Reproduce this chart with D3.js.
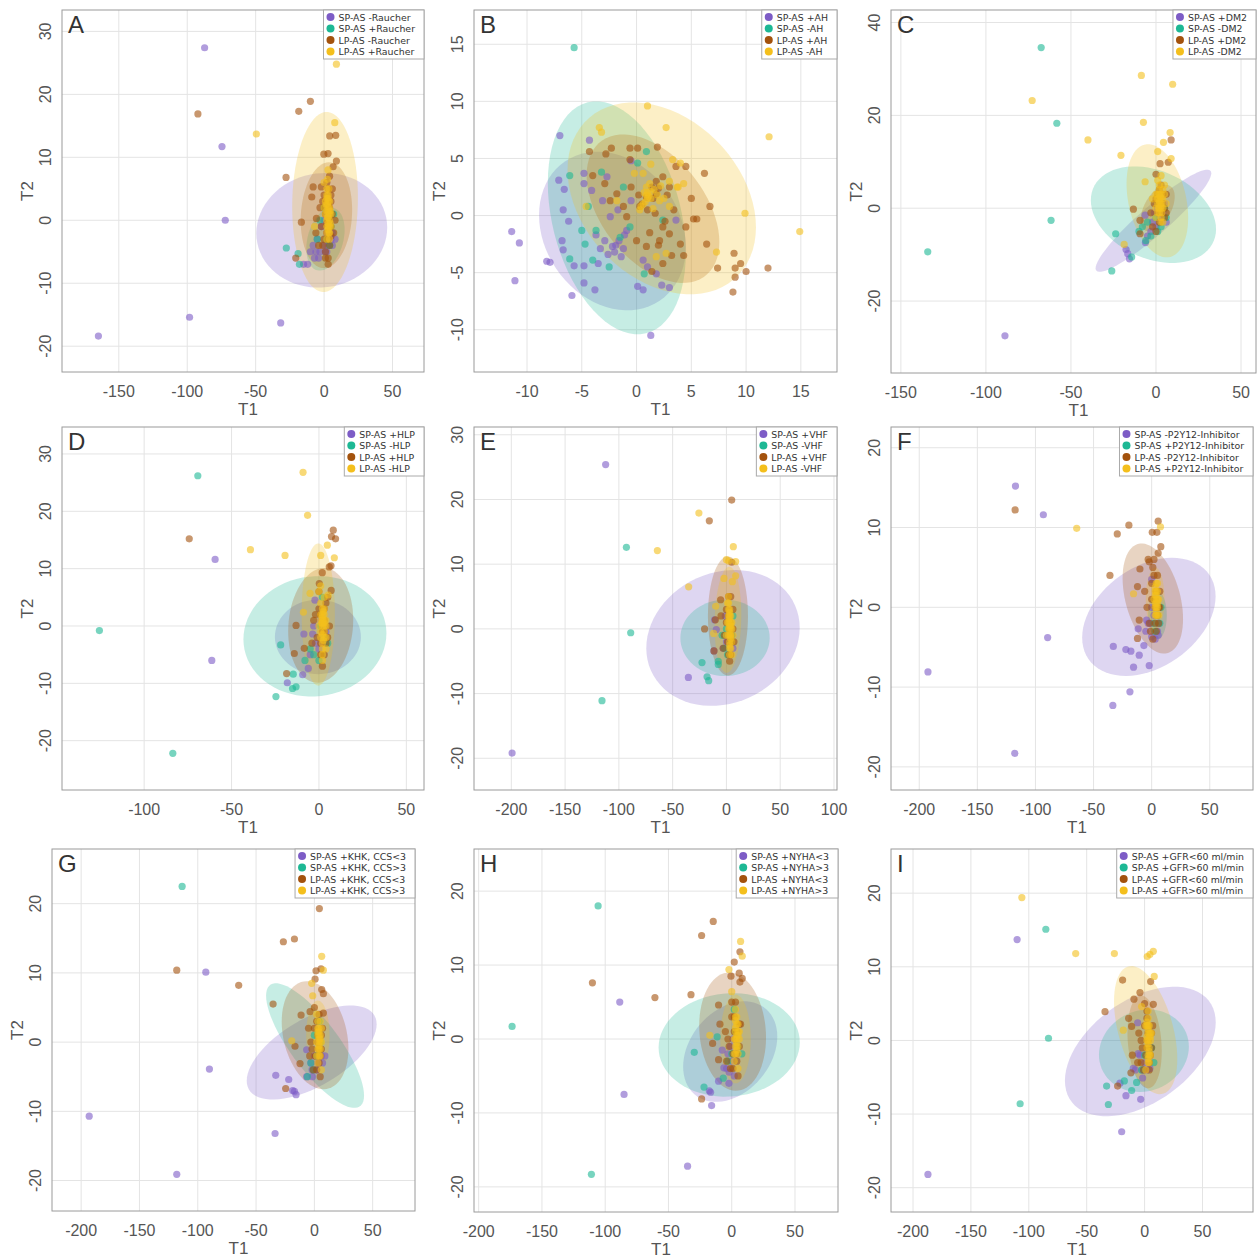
<!DOCTYPE html>
<html>
<head>
<meta charset="utf-8">
<script src="https://cdn.jsdelivr.net/npm/d3@7"></script>
<style>
  body { margin: 0; background: #fff; }
  svg { font-family: "Liberation Sans", Arial, sans-serif; }
</style>
</head>
<body>
<svg id="chart" width="1258" height="1258"></svg>
<script>
// group colours: SP-AS (1), SP-AS (2), LP-AS (1), LP-AS (2)
const colors = ["#7d5cc6", "#1db894", "#a3520d", "#f4bf1c"];

// ---- Panel A ----
const legendA = ["SP-AS -Raucher", "SP-AS +Raucher", "LP-AS -Raucher", "LP-AS +Raucher"];
const xTicksA = [-150, -100, -50, 0, 50];
const yTicksA = [-20, -10, 0, 10, 20, 30];
const xDomA = [-191.5, 73], yDomA = [-24.1, 33.4];
// ellipses: [cx, cy, sx, sy, rho]
const ellA = [[-1.7, -1.6, 47.8, 9.1, 0.05], [1, -3, 14, 5, 0.3], [1.7, 0.8, 18.8, 8.4, 0.1], [0.7, 2.9, 24, 14.3, 0.05]];
const ptsA = [
  [[-87.3,27.4],[-74.6,11.7],[-72.2,0],[-98.3,-15.4],[-31.7,-16.3],[-164.9,-18.4],[-15,-7],[-12,-7],[-6,-5],[-3,-5],[0,-4],[3,-4],[5,-3],[-8,-4],[-5,-3],[2,-2],[0,0],[3,2],[-2,-1],[1,-5],[4,-1],[6,-2],[-10,-5],[-7,-6],[2,-5],[6,-4],[8,-3],[-4,-6]],
  [[-27.6,-4.4],[-19,-5.3],[-18,-7],[-5,-3],[2,-3],[5,-1],[0,2],[-3,0],[4,-4],[7,1]],
  [[-92.2,16.9],[-18.5,17.3],[-10,18.9],[-27.8,6.8],[8.5,13.5],[4.1,13.4],[-0.2,10.5],[2.9,10.6],[6.6,8.5],[9,9.4],[-20.7,-6],[-8,5.3],[-9,3.7],[-16.6,-0.3],[-5.6,0.3],[-2,5.3],[0,4],[2,3],[4,2],[1,1],[3,0],[5,-1],[2,-2],[0,-3],[4,-4],[6,1],[-3,2],[-2,-1],[1,-5],[3,5],[5,4],[7,-2],[1,-6],[3,-6],[-1,-4],[2,6],[4,7],[6,5],[-4,-4],[-6,-2],[8,0],[3,-7],[5,3],[-1,3],[2,-0.5],[4,0.5],[3,-3],[5,-2.5],[1,2],[3,2.5]],
  [[9,24.8],[-49.5,13.7],[7.8,15.5],[2.9,8],[0,6],[2,4],[3,2],[1,1],[2,0],[3,-1],[4,0],[2,-2],[1,3],[4,2],[3,1],[2,-1],[-7,-1],[5,-1],[0,2],[3,3],[2,5],[4,-2],[3,4],[4,3],[3.5,1.5],[2.5,0.5],[4.5,-0.5],[3,-1.5],[2,-3],[4,-3],[5,1],[1.5,2.5],[3.5,5],[2.5,6.5],[4,-1],[3,0.5],[2,1.5],[3,-0.5],[4,1],[2.5,2.5],[3.5,-2],[4.5,1.5],[2,3.5],[3,3.5]]
];

// ---- Panel B ----
const legendB = ["SP-AS +AH", "SP-AS -AH", "LP-AS +AH", "LP-AS -AH"];
const xTicksB = [-10, -5, 0, 5, 10, 15];
const yTicksB = [-10, -5, 0, 5, 10, 15];
const xDomB = [-14.84, 18.3], yDomB = [-13.7, 18.0];
const ellB = [[-2.2, -1.35, 6.7, 6.95, -0.2], [-1.8, -0.2, 6.3, 10.2, -0.3], [1.5, 0.6, 6.06, 6.5, -0.45], [2.3, 1.5, 8.6, 8.4, -0.3]];
const ptsB = [
  [[-11.4,-1.4],[-10.7,-2.4],[-11.1,-5.7],[-7,7],[-7.1,3.1],[-6.6,2.3],[-6.7,0.5],[-6.2,-0.5],[-6.8,-2.2],[-6.7,-3],[-8.2,-4],[-7.9,-4.1],[-5.7,-4.4],[-5.9,-7],[-4.8,3.7],[-4.8,2.8],[-4.8,-5.9],[-3.8,-6.5],[-4.8,-4.4],[-4.3,6.6],[-3.7,-1.7],[-3.3,-2.9],[-3.5,-4.2],[-2.9,-2.2],[-2.2,-2.7],[-1.9,-2.6],[-1.4,-3.6],[-2.4,-0.1],[-1.1,-1.7],[-0.5,1.3],[-0.5,4.8],[0.1,-6.2],[0.6,-6.5],[1.3,-10.5],[3,-6.3],[2.3,-6.1],[1.8,-5.1],[1,-4.5],[-3.1,1.3],[-4.1,2.2],[-2.7,3.4],[-1.7,0.5],[-0.9,-1.3],[0.6,-3.9],[3.6,-0.4],[-2,-3.2],[-1.6,-2.2],[-2.6,-3.4],[-1.2,-2.9]],
  [[-5.7,14.7],[-6.1,3.5],[-6.1,-3.8],[-4.7,-2.5],[-4,-3.9],[-2.5,-4.5],[-5,-1.3],[-4.4,0.8],[-1.5,-1.9],[-0.6,-1],[0.1,4.6],[0.9,5.6],[0.7,-5.1],[2.4,-0.4],[-3.2,3.8],[-1.2,2.5],[-3.7,-1.3]],
  [[-4.3,5.6],[-2.8,5.4],[-2.3,5.9],[-0.6,5.9],[0.1,5.9],[1.9,6],[-0.6,4.9],[-4,3.5],[-2.9,2.8],[-1.8,1.9],[-1.2,0.8],[0.3,0.8],[0.9,1.6],[1.4,2.5],[1.8,1.9],[2.4,3.4],[3,2.5],[3.6,4.3],[4.5,4.3],[6.2,3.7],[6.7,0.8],[5.2,-0.3],[5.5,-0.3],[6.4,-2.5],[4.3,-3.5],[2.4,-4.2],[1.4,-4.9],[2.1,-2.2],[0.9,-2.7],[0,-2.2],[-0.9,-0.1],[-2.4,1.3],[7.4,-4.6],[8.9,-3.3],[9,-4.6],[9,-5.4],[8.8,-6.7],[9.5,-4.2],[10,-4.9],[12,-4.6],[2.4,-1],[3,-1.6],[1.7,0.2],[0.5,1],[1.5,1.5],[2,2.4],[1,0.5],[0.2,1.8],[2.8,1.8],[1.8,3],[-0.5,2.5],[3.4,0.5],[2.6,-0.5],[1.2,-1.5],[4,-2.5],[3.2,-3.5],[2,-2.6],[5,1.5],[4.5,-1]],
  [[1,9.6],[2.7,7.7],[-3.4,7.7],[-3.2,7.3],[12.1,6.9],[9.9,0.2],[14.9,-1.4],[7.3,-3.2],[3.3,4.9],[4,4.6],[3.7,2.5],[4.3,2.8],[1.3,4.5],[0.6,3.7],[-0.2,3.7],[2.1,1.3],[3,0.8],[1.8,-3.6],[2.7,-3.3],[-4.6,0.8],[-1.8,1.3],[0.9,1.8],[1.3,2.1],[0.9,2.5],[0.6,1],[0.3,0.5],[3.8,2.5],[1.1,1.7],[1,1.5],[1,2],[1.3,1.5],[0.8,1.2],[1.6,2.3],[1.9,1.8],[0.4,0.8],[2.2,2.6],[1.2,2.8],[0.7,2],[2.5,1.5],[1.5,0.6],[3,3]]
];

// ---- Panel C ----
const legendC = ["SP-AS +DM2", "SP-AS -DM2", "LP-AS +DM2", "LP-AS -DM2"];
const xTicksC = [-150, -100, -50, 0, 50];
const yTicksC = [-20, 0, 20, 40];
const xDomC = [-155.8, 58.8], yDomC = [-35.5, 42.7];
const ellC = [[-1.5, -2.7, 34, 11, 0.93], [-1.5, -1.4, 36.8, 10.4, -0.3], [1, 0, 10, 5, 0.5], [0.8, 1.6, 18.1, 12.2, -0.3]];
const ptsC = [
  [[-88.8,-27.5],[-17.6,-8.9],[-15.6,-10.9],[-16.6,-9.8],[-6.2,-7.4],[-6.4,-1.5],[-3,-5],[0,-4],[2,-2],[4,-1],[-2,-3],[1,0],[5,1],[6,-3],[-5,-6],[-1,-1],[3,-3]],
  [[-67.5,34.6],[-58.3,18.3],[-61.7,-2.6],[-134.2,-9.4],[-26,-13.5],[-23.7,-5.5],[-14.3,-10.5],[-10,-5],[-5,-3],[0,-2],[3,-4],[-3,-6],[5,0],[2,3],[-8,-4],[-6,-7],[6,-2],[1,-5]],
  [[8.9,14.7],[2.4,9.6],[7.2,9.9],[0,7.3],[-13.3,-0.2],[-9.4,-2.6],[-9.4,-5.5],[0,2],[3,0],[-3,-1],[5,-2],[2,4],[-2,-4],[4,3],[6,-1],[1,-1],[2,-3],[4,1],[-1,1],[3,5],[5,0],[0,-5],[6,3],[2,1],[3,-1],[1,3]],
  [[-72.8,23.2],[-8.6,28.6],[9.8,26.7],[-7.4,18.5],[-40,14.7],[-20.6,11.4],[8.3,16.3],[4.4,14.2],[1,12.2],[8.9,10.7],[-6.4,5.7],[-18.7,-7.8],[0,3],[2,1],[3,0],[1,-1],[4,2],[2,4],[3,-2],[0,0],[5,5],[-2,2],[4,-3],[1,6],[6,1],[3,7],[2,2],[3,3],[2,0],[3,2],[1,1],[4,0],[2,-1],[3,1],[1,3],[4,4],[2,5],[0,-2],[3,-3],[5,3],[1,2],[2,3],[2,1.5],[3,0.5],[1.5,0],[2.5,2.5],[3.5,-1]]
];

// ---- Panel D ----
const legendD = ["SP-AS +HLP", "SP-AS -HLP", "LP-AS +HLP", "LP-AS -HLP"];
const xTicksD = [-100, -50, 0, 50];
const yTicksD = [-20, -10, 0, 10, 20, 30];
const xDomD = [-147, 60.1], yDomD = [-28.6, 34.7];
const ellD = [[-0.6, -1.9, 24.6, 6.5, 0], [-2.3, -1.8, 40.9, 10.5, 0.05], [1, 0.1, 18.6, 10, 0.1], [-0.4, 2, 9.5, 12.4, 0]];
const ptsD = [
  [[-59.4,11.6],[-61.3,-6],[-18.1,-9.9],[-9.3,-8.5],[-6.1,-7.4],[-2.3,4.5],[-8.6,-1.4],[-3.6,-1.4],[-5,-5],[-2,-3],[0,-4],[3,-2],[1,1],[4,-1],[-3,0],[2,-3]],
  [[-69.3,26.2],[-125.6,-0.8],[-83.6,-22.2],[-24.6,-12.3],[-21.9,-3.3],[-14.7,-8.4],[-15.1,-10.9],[-13.1,-10.6],[-8,-6],[-3,-5],[0,-6],[3,-2],[5,-3],[-5,-4],[1,0],[2,5]],
  [[-74.2,15.2],[8.2,16.7],[7.2,15.6],[9.5,15.2],[6.9,10.5],[5.9,10.3],[1.9,9.3],[7,6.2],[0.2,7.4],[-13.1,0.1],[-18.5,-8.3],[-14.1,-4.8],[-8.4,-3.9],[0,3],[3,1],[5,-2],[2,-1],[-2,2],[4,4],[6,0],[1,-3],[-4,-3],[3,-5],[1,-5],[4,-3],[-1,-2],[3,3],[5,5],[0,6],[2,-7],[-3,1],[2,0],[3,-1],[1,2]],
  [[-9.1,26.8],[-6.5,19.3],[-39.2,13.3],[-19.4,12.3],[4.8,14.1],[8.8,11.9],[1,12.3],[-8.9,2.4],[-5.1,5.7],[5.3,5.4],[0,0],[2,2],[3,-1],[1,4],[2,1],[3,3],[1,-2],[4,1],[2,-3],[0,6],[3,0],[2,-5],[4,-4],[1,1],[2,0],[2,0.5],[3,1],[1,-1],[2,3],[3,-2],[1,2],[4,0],[2,-4],[3,5],[1,7],[2,-6],[3,2],[4,-2],[2,1.5],[2,-1.5],[3,0.5],[1.5,0.5],[2.5,2.5],[2.5,-2.5]]
];

// ---- Panel E ----
const legendE = ["SP-AS +VHF", "SP-AS -VHF", "LP-AS +VHF", "LP-AS -VHF"];
const xTicksE = [-200, -150, -100, -50, 0, 50, 100];
const yTicksE = [-20, -10, 0, 10, 20, 30];
const xDomE = [-234.7, 102.8], yDomE = [-24.9, 31.2];
const ellE = [[-3.2, -1.4, 71.3, 10.5, 0.15], [-1.3, -1.4, 41.5, 5.9, 0], [1.4, 2, 18.6, 9.2, 0], [1.4, 1.4, 12.4, 8.2, 0.1]];
const ptsE = [
  [[-112.3,25.4],[-199.3,-19.2],[-35.4,-7.5],[-11.6,-3.4],[-9.4,-0.1],[-11,1.4],[-3,-3],[0,-2],[3,-4],[5,-1],[2,1],[-1,2],[6,-3],[4,0]],
  [[-93,12.6],[-89,-0.6],[-115.7,-11.1],[-22.7,-5.2],[-7.6,-5],[-18,-7.4],[-16.5,-8],[-7.6,-5.5],[-2,-3],[1,-4],[4,-2],[3,1],[0,0],[5,-1],[6,2],[-4,-1]],
  [[4.9,19.9],[-15.9,16.7],[4.9,10.3],[-20.3,0],[-11.6,-3.4],[-5.4,4.5],[-10.3,1.4],[0,3],[3,1],[5,-2],[-2,-1],[2,-4],[6,0],[-5,2],[4,5],[1,-2],[4,-4],[-3,-3],[6,3],[2,5],[0,1],[7,-2],[3,-5],[3,0],[2,2],[4,-1]],
  [[-25.6,17.9],[-64.2,12.1],[6.4,12.7],[0,10.7],[2.1,10.5],[8.6,10.4],[-35.1,6.5],[-2.3,7.8],[5.5,7.3],[8.6,8.2],[-10,3.5],[-11.9,-0.7],[2,0],[3,2],[4,-1],[1,1],[3,-2],[5,1],[2,3],[4,0],[3,-3],[1,4],[5,-4],[0,-1],[2,5],[3,0],[2,1],[3,1],[4,-1.5],[2,-1],[4,2],[3,-2.5],[5,0],[2,2],[4,-3],[3,3],[5,-2],[2,4],[4,1],[3,-4],[6,-1],[3,0.5],[4,0.5],[2.5,1.5],[3.5,-1],[3,2.5]]
];

// ---- Panel F ----
const legendF = ["SP-AS -P2Y12-Inhibitor", "SP-AS +P2Y12-Inhibitor", "LP-AS -P2Y12-Inhibitor", "LP-AS +P2Y12-Inhibitor"];
const xTicksF = [-200, -150, -100, -50, 0, 50];
const yTicksF = [-20, -10, 0, 10, 20];
const xDomF = [-224.3, 87.2], yDomF = [-22.9, 22.6];
const ellF = [[-2.4, -1.2, 57.4, 7.4, 0.35], [5, -1, 8, 3, 0], [1, 1.1, 26, 6.9, -0.37], [3, 1, 8, 4, 0]];
const ptsF = [
  [[-117.2,15.2],[-93.2,11.6],[-89.5,-3.8],[-192.5,-8.1],[-117.8,-18.3],[-33,-4.9],[-22.2,-5.3],[-17.9,-5.5],[-10.7,-6],[-15.6,-7.5],[-2.1,-7.3],[-18.7,-10.6],[-33.4,-12.3],[-6.7,-4.8],[-11.6,-2.7],[0,-3.7],[5.6,-3.5],[-4.4,-1.6],[0,3.5],[-3,-2],[2,-1],[5,-3],[0,0],[-1,-2],[3,-4],[-5,-3],[6,-2]],
  [[7,-2],[5,-1],[3,-3],[8,0],[2,-2]],
  [[-117.5,12.2],[-19.6,10.3],[-29.6,9.2],[5.6,10.8],[0.5,9.4],[4.5,9.4],[7.9,7.6],[5.6,6.8],[-35.9,4],[-10.1,4.8],[-2.1,5.7],[-12.2,2.6],[-10.7,-1.6],[-12.2,-3.9],[0,3],[3,1],[5,-1],[-2,-2],[7,2],[1,5],[4,-3],[6,0],[0,1],[3,-2],[-4,0],[2,4],[6,-2],[-1,-3],[5,4],[-6,2],[1,-4],[7,0],[-3,6],[2,6],[3,0],[4,2]],
  [[-64.5,9.9],[7.6,10.1],[-15.6,1.7],[3,0],[4,1],[5,2],[3,-1],[5,0],[4,3],[2,1],[6,-1],[4,0],[3,2],[4,0.5],[5,1],[4,2],[3,0.5],[5,-1],[6,1],[4,-1],[3,2.5],[5,3],[4,1.5],[4,-0.5],[5,0.5],[3,1.5]]
];

// ---- Panel G ----
const legendG = ["SP-AS +KHK, CCS<3", "SP-AS +KHK, CCS>3", "LP-AS +KHK, CCS<3", "LP-AS +KHK, CCS>3"];
const xTicksG = [-200, -150, -100, -50, 0, 50];
const yTicksG = [-20, -10, 0, 10, 20];
const xDomG = [-225, 86.3], yDomG = [-24.4, 27.9];
const ellG = [[-2.3, -1.5, 55.7, 6.8, 0.6], [0.6, -0.5, 42, 9, -0.8], [0.6, 1, 28.6, 7.8, -0.25], [3, 1, 10, 5, 0]];
const ptsG = [
  [[-93.1,10.1],[-90,-3.9],[-193.1,-10.7],[-118,-19.1],[-33.7,-13.2],[-33.1,-4.8],[-22,-5.4],[-18.6,-7],[-17.1,-7.1],[-15.7,-7.6],[-6.6,-5],[-1.7,-5],[-6.6,-1.1],[3,-3],[6,-2],[9,-2],[0,-2],[-3,-3],[4,0],[2,-4],[-2,-4],[7,-3]],
  [[-113.4,22.5],[-6,-5],[-3,-3],[2,-2],[5,0],[0,1],[-1,-4],[4,3]],
  [[-118,10.4],[-64.9,8.2],[-26.6,14.5],[-17.1,14.9],[4.3,19.3],[-35.4,5.5],[1.4,10.3],[5.7,10.6],[0.6,9.1],[6.3,7.6],[7.7,7],[-11.4,3.9],[-3.7,4.4],[7.7,4.2],[-24.6,-6.7],[-16.6,-0.6],[-12.3,-3.1],[0,2],[3,0],[5,-2],[-2,-1],[2,-4],[6,1],[-5,2],[4,4],[1,-2],[4,-3],[-3,0],[6,-1],[2,3],[-1,-4],[7,2],[0,5],[5,-5],[-4,-2],[3,1],[4,-1]],
  [[6.3,12.4],[7.7,10.4],[-2.3,8.5],[-1.4,6.7],[-19.4,0.2],[2,0],[4,1],[5,-1],[3,2],[4,-2],[6,0],[3,-3],[5,3],[2,4],[6,-4],[4,0],[3,1],[4,0.5],[5,1],[3,-1],[4,2],[5,-2],[3,1.5],[4,-1],[6,2],[2,-2],[5,0],[3,3],[4,-0.5],[5,0.5],[4,1.5]]
];

// ---- Panel H ----
const legendH = ["SP-AS +NYHA<3", "SP-AS +NYHA>3", "LP-AS +NYHA<3", "LP-AS +NYHA>3"];
const xTicksH = [-200, -150, -100, -50, 0, 50];
const yTicksH = [-20, -10, 0, 10, 20];
const xDomH = [-203.7, 84], yDomH = [-23.4, 25.7];
const ellH = [[-1.2, -1.7, 37.2, 6.8, 0.3], [-2, -0.8, 55.8, 7, 0.05], [0.7, 1, 26.4, 8, -0.1], [3, 0, 12, 6, 0]];
const ptsH = [
  [[-88.5,5],[-85.1,-7.5],[-34.9,-17.2],[-15.9,-9],[-17.7,-7],[-16.7,-7.2],[-10.4,-5.7],[-2.2,-6],[-2,-4.5],[-6.2,-3.9],[-7.5,-1.5],[0,-3],[3,-2],[-3,-2],[5,-1],[1,0],[-4,-4],[2,-5],[-1,-1]],
  [[-105.6,18],[-173.6,1.7],[-110.9,-18.3],[-29.6,-1.8],[-21.9,-6.5],[-6.7,-5.3],[-11.5,0.3],[-3,-3],[0,-2],[5,-1],[8,-2],[3,1],[2,4]],
  [[-110.1,7.6],[-60.7,5.6],[-32.2,6],[-23.8,14],[-14.6,15.9],[2,10.4],[-0.6,8.5],[6.5,7.7],[8.3,8.2],[-23.8,-8.1],[-15.1,-0.6],[-10.4,-2.8],[-9.3,2],[-10.4,4.6],[6.5,11.8],[5.9,8.9],[0,3],[2,1],[4,-2],[-2,-1],[6,2],[-4,-3],[3,5],[1,-4],[1,-2],[4,-3],[-3,0],[6,-1],[2,3],[-1,-4],[7,2],[0,5],[5,-5],[-5,1],[3,0],[4,1]],
  [[7,13.2],[8.3,11.2],[-2.2,9.4],[0,6.4],[-17.3,0.5],[2,0],[3,1],[4,-1],[5,2],[3,-2],[4,3],[2,-3],[6,0],[5,-4],[3,4],[4,0],[3,0],[4,0.5],[5,1],[3,-1],[4,2],[5,-2],[3,1.5],[4,-1.5],[6,1],[3,3],[5,-1],[2,-2],[4,-0.5],[5,0.5],[3,2.5]]
];

// ---- Panel I ----
const legendI = ["SP-AS +GFR<60 ml/min", "SP-AS +GFR>60 ml/min", "LP-AS +GFR<60 ml/min", "LP-AS +GFR>60 ml/min"];
const xTicksI = [-200, -150, -100, -50, 0, 50];
const yTicksI = [-20, -10, 0, 10, 20];
const xDomI = [-219, 93.6], yDomI = [-23.3, 26];
const ellI = [[-3.7, -1.5, 65.1, 8.8, 0.45], [-0.6, -1.4, 38.8, 5.6, 0.1], [0, -0.2, 14.8, 6.3, -0.2], [0.9, 1.4, 27.3, 8.7, -0.45]];
const ptsI = [
  [[-110.1,13.7],[-187.1,-18.2],[-19.8,-12.4],[-16.1,-7.5],[-3.4,-8],[-21.3,-5.8],[-9.8,-3.8],[-1.7,-5.1],[4.6,-3.8],[-5.5,-1.8],[-6,2.4],[0,-3],[3,-2],[5,-1],[-2,-4],[-8,-4],[2,-4],[-4,-2]],
  [[-85.3,15.1],[-83,0.3],[-107.5,-8.6],[-32.8,-6.2],[-31.3,-8.7],[-17.5,-5.5],[-11.2,-6.8],[-6.9,-5.7],[-2.6,-4],[3,-2],[6,-1],[8,-3],[0,-2],[4,1]],
  [[-34.2,3.9],[-19,8.2],[-9.2,5.6],[-4,6.5],[5.2,8],[7.5,4.9],[-23.3,-6.2],[-11.8,-4.4],[-10.6,-2],[-13.8,3],[-11.2,1.9],[0,2],[3,0],[5,-2],[-2,-1],[2,4],[4,-4],[6,1],[-3,-3],[1,-2],[4,-3],[-3,0],[6,-1],[2,3],[-1,-4],[7,2],[0,5],[-5,1],[-6,-3],[3,1],[2,-1]],
  [[-106,19.4],[-59.5,11.8],[-26.1,11.8],[4.6,11.7],[7.5,12.1],[2.3,11.4],[8.3,8.7],[-18.4,1.4],[-2.6,4.6],[2,0],[3,1],[4,-1],[1,2],[3,-2],[5,0],[2,2.5],[4,-3],[6,1],[3,4],[1,-4],[5,-2],[3,0],[4,1],[3,1.5],[4,-1.5],[2,-1],[4,2],[3,-2.5],[5,0.5],[2,2],[3,3],[4,-2],[2,0.5],[5,1],[3,-3],[3,-0.5],[4,0.5],[3,2]]
];

// layout: plot boxes in pixels [left, top, right, bottom]
const panels = [
  {id: "A", box: [62, 10, 424, 372], xd: xDomA, yd: yDomA, xt: xTicksA, yt: yTicksA, ell: ellA, pts: ptsA, leg: legendA},
  {id: "B", box: [474, 10, 837, 372], xd: xDomB, yd: yDomB, xt: xTicksB, yt: yTicksB, ell: ellB, pts: ptsB, leg: legendB},
  {id: "C", box: [891, 10, 1256, 373], xd: xDomC, yd: yDomC, xt: xTicksC, yt: yTicksC, ell: ellC, pts: ptsC, leg: legendC},
  {id: "D", box: [62, 427, 424, 790], xd: xDomD, yd: yDomD, xt: xTicksD, yt: yTicksD, ell: ellD, pts: ptsD, leg: legendD},
  {id: "E", box: [474, 427, 837, 790], xd: xDomE, yd: yDomE, xt: xTicksE, yt: yTicksE, ell: ellE, pts: ptsE, leg: legendE},
  {id: "F", box: [891, 427, 1253, 790], xd: xDomF, yd: yDomF, xt: xTicksF, yt: yTicksF, ell: ellF, pts: ptsF, leg: legendF},
  {id: "G", box: [52, 849, 415, 1211], xd: xDomG, yd: yDomG, xt: xTicksG, yt: yTicksG, ell: ellG, pts: ptsG, leg: legendG},
  {id: "H", box: [474, 849, 838, 1212], xd: xDomH, yd: yDomH, xt: xTicksH, yt: yTicksH, ell: ellH, pts: ptsH, leg: legendH},
  {id: "I", box: [891, 849, 1253, 1212], xd: xDomI, yd: yDomI, xt: xTicksI, yt: yTicksI, ell: ellI, pts: ptsI, leg: legendI}
];

const svg = d3.select("#chart");
const angles = d3.range(0, 73).map(i => i / 72 * 2 * Math.PI);

panels.forEach(p => {
  const [l, t, r, b] = p.box;
  const x = d3.scaleLinear().domain(p.xd).range([l, r]);
  const y = d3.scaleLinear().domain(p.yd).range([b, t]);
  const g = svg.append("g");

  // clip to the plot box
  g.append("clipPath").attr("id", "clip" + p.id)
    .append("rect").attr("x", l).attr("y", t).attr("width", r - l).attr("height", b - t);

  // grid
  g.selectAll(".gx").data(p.xt).join("line")
    .attr("x1", d => x(d)).attr("x2", d => x(d)).attr("y1", t).attr("y2", b)
    .attr("stroke", "#e4e4e4").attr("stroke-width", 1);
  g.selectAll(".gy").data(p.yt).join("line")
    .attr("x1", l).attr("x2", r).attr("y1", d => y(d)).attr("y2", d => y(d))
    .attr("stroke", "#e4e4e4").attr("stroke-width", 1);

  const plot = g.append("g").attr("clip-path", `url(#clip${p.id})`);

  // confidence ellipses
  const line = d3.line().x(d => x(d[0])).y(d => y(d[1])).curve(d3.curveLinearClosed);
  plot.selectAll(".ell").data(p.ell).join("path")
    .attr("d", e => line(angles.map(a => [
      e[0] + e[2] * Math.cos(a),
      e[1] + e[3] * (e[4] * Math.cos(a) + Math.sqrt(1 - e[4] * e[4]) * Math.sin(a))
    ])))
    .attr("fill", (e, i) => colors[i])
    .attr("fill-opacity", 0.25)
    .attr("stroke", "none");

  // points
  p.pts.forEach((grp, i) => {
    plot.selectAll(".pt" + i).data(grp).join("circle")
      .attr("cx", d => x(d[0])).attr("cy", d => y(d[1])).attr("r", 3.6)
      .attr("fill", colors[i]).attr("fill-opacity", 0.6);
  });

  // box
  g.append("rect").attr("x", l).attr("y", t).attr("width", r - l).attr("height", b - t)
    .attr("fill", "none").attr("stroke", "#9a9a9a").attr("stroke-width", 1);

  // tick labels
  g.selectAll(".tx").data(p.xt).join("text")
    .attr("x", d => x(d)).attr("y", b + 25)
    .attr("text-anchor", "middle").attr("font-size", 16).attr("fill", "#555")
    .text(d => d);
  g.selectAll(".ty").data(p.yt).join("text")
    .attr("transform", d => `translate(${l - 11},${y(d)}) rotate(-90)`)
    .attr("text-anchor", "middle").attr("font-size", 16).attr("fill", "#555")
    .text(d => d);

  // axis titles
  g.append("text").attr("x", (l + r) / 2 + 5).attr("y", b + 43)
    .attr("text-anchor", "middle").attr("font-size", 17).attr("fill", "#555").text("T1");
  g.append("text").attr("transform", `translate(${l - 29},${(t + b) / 2}) rotate(-90)`)
    .attr("text-anchor", "middle").attr("font-size", 17).attr("fill", "#555").text("T2");

  // panel letter
  g.append("text").attr("x", l + 6).attr("y", t + 23)
    .attr("font-size", 24).attr("fill", "#333").text(p.id);

  // legend
  const lg = g.append("g");
  const items = lg.selectAll("text").data(p.leg).join("text")
    .attr("y", (d, i) => t + 10.5 + i * 11.5)
    .attr("font-family", "DejaVu Sans, sans-serif").attr("font-size", 9.4).attr("fill", "#333")
    .text(d => d);
  const tw = d3.max(items.nodes(), n => n.getComputedTextLength());
  const lw = tw + 24, lx = r - lw;
  items.attr("x", lx + 15);
  lg.insert("rect", "text").attr("x", lx).attr("y", t).attr("width", lw).attr("height", 49)
    .attr("fill", "#fff").attr("stroke", "#aaa").attr("stroke-width", 1);
  lg.selectAll("circle").data(p.leg).join("circle")
    .attr("cx", lx + 7).attr("cy", (d, i) => t + 7 + i * 11.5).attr("r", 4)
    .attr("fill", (d, i) => colors[i]);
});
</script>
</body>
</html>
